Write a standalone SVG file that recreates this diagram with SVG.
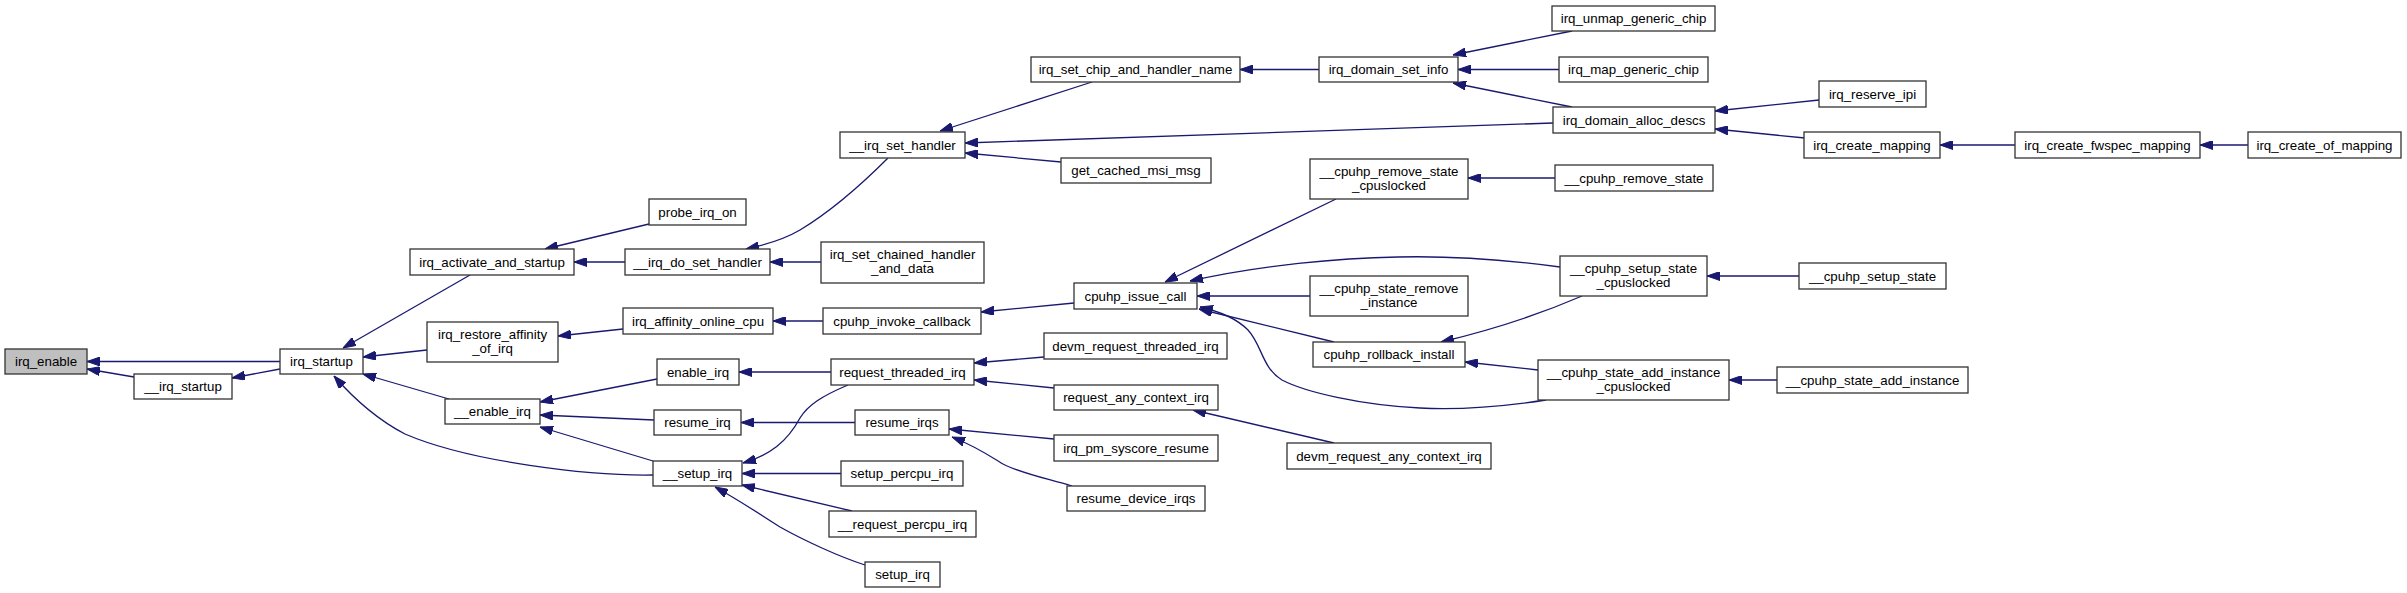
<svg xmlns="http://www.w3.org/2000/svg" width="2407" height="593" viewBox="0 0 2407 593">
<style>
.n rect{fill:#ffffff;stroke:#333333;stroke-width:1.3}
.n.hl rect{fill:#bfbfbf}
.n text{font-family:"Liberation Sans",Arial,sans-serif;font-size:13.3px;fill:#000000;text-anchor:middle}
.e path{fill:none;stroke:#191970;stroke-width:1.3;marker-end:url(#ah)}
</style>
<defs>
<marker id="ah" markerUnits="userSpaceOnUse" viewBox="0 0 13 9" refX="13" refY="4.5" markerWidth="13" markerHeight="9" orient="auto">
<path d="M0,0 L13,4.5 L0,9 z" fill="#191970" stroke="#191970" stroke-width="1"/>
</marker>
</defs>
<rect width="2407" height="593" fill="#ffffff"/>
<g id="connectors" class="e">
<path d="M280,361.5 L87,361.5"/>
<path d="M134,377 L87,369"/>
<path d="M280,369 L232,378"/>
<path d="M470,275 L343,348"/>
<path d="M427,350 L363,357"/>
<path d="M449,399 L363,374"/>
<path d="M653,475 C590,476 470,462 405,434 C378,420 355,400 334,376"/>
<path d="M649,224 L545,249"/>
<path d="M625,262 L574,262"/>
<path d="M623,329 L558,336"/>
<path d="M823,321 L773,321"/>
<path d="M1074,303 L981,312"/>
<path d="M657,379 L540,402"/>
<path d="M654,420 L540,415"/>
<path d="M653,461 L540,427"/>
<path d="M831,372 L739,372"/>
<path d="M855,422.5 L741,422.5"/>
<path d="M848,385 C822,396 808,405 800,418 C787,442 770,455 743,463"/>
<path d="M841,473.5 L742,473.5"/>
<path d="M852,511 L742,485"/>
<path d="M865,565 C840,557 805,541 780,527 C760,514 735,498 715,487"/>
<path d="M888,158 C860,186 830,212 800,230 C783,240 765,245 746,249"/>
<path d="M821,262 L770,262"/>
<path d="M1092,82 L940,131"/>
<path d="M1553,123 L965,143"/>
<path d="M1061,162 L965,153"/>
<path d="M1319,69.5 L1240,69.5"/>
<path d="M1572,31 L1453,55"/>
<path d="M1559,69.5 L1458,69.5"/>
<path d="M1572,107 L1453,83"/>
<path d="M1819,100 L1715,111"/>
<path d="M1805,138 L1715,129"/>
<path d="M2015,145 L1940,145"/>
<path d="M2248,145 L2200,145"/>
<path d="M1336,199 L1165,282"/>
<path d="M1555,178 L1468,178"/>
<path d="M1560,267 C1500,259 1440,256 1398,257 C1340,258 1260,265 1190,281"/>
<path d="M1799,276 L1707,276"/>
<path d="M1310,296 L1197,296"/>
<path d="M1334,342 L1199,309"/>
<path d="M1546,400 C1500,407 1460,410 1420,408 C1360,405 1305,392 1282,380 C1262,368 1262,345 1248,330 C1236,318 1218,311 1200,307"/>
<path d="M1582,296 C1545,312 1500,328 1441,342"/>
<path d="M1538,370 L1465,362"/>
<path d="M1777,380 L1729,380"/>
<path d="M1044,357 L974,363"/>
<path d="M1054,388 L974,380"/>
<path d="M1334,443 L1193,410"/>
<path d="M1054,439 L949,429"/>
<path d="M1072,486 C1045,478 1020,473 1003,464 C990,456 975,446 952,437"/>
</g>
<g id="irq_enable" class="n hl"><rect x="5" y="349" width="82" height="25"/><text x="46" y="366">irq_enable</text></g>
<g id="__irq_startup" class="n"><rect x="134" y="374" width="98" height="25"/><text x="183" y="391">__irq_startup</text></g>
<g id="irq_startup" class="n"><rect x="280" y="349" width="83" height="25"/><text x="321.5" y="366">irq_startup</text></g>
<g id="irq_activate_and_startup" class="n"><rect x="410" y="249" width="164" height="26"/><text x="492" y="266.5">irq_activate_and_startup</text></g>
<g id="irq_restore_affinity_of_irq" class="n"><rect x="427" y="322" width="131" height="40"/><text x="492.5" y="339">irq_restore_affinity</text><text x="492.5" y="353">_of_irq</text></g>
<g id="__enable_irq" class="n"><rect x="445" y="399" width="95" height="25"/><text x="492.5" y="416">__enable_irq</text></g>
<g id="probe_irq_on" class="n"><rect x="649" y="199" width="97" height="26"/><text x="697.5" y="216.5">probe_irq_on</text></g>
<g id="__irq_do_set_handler" class="n"><rect x="625" y="249" width="145" height="26"/><text x="697.5" y="266.5">__irq_do_set_handler</text></g>
<g id="irq_affinity_online_cpu" class="n"><rect x="623" y="308" width="150" height="26"/><text x="698" y="325.5">irq_affinity_online_cpu</text></g>
<g id="enable_irq" class="n"><rect x="657" y="359" width="82" height="26"/><text x="698" y="376.5">enable_irq</text></g>
<g id="resume_irq" class="n"><rect x="654" y="410" width="87" height="25"/><text x="697.5" y="427">resume_irq</text></g>
<g id="__setup_irq" class="n"><rect x="653" y="461" width="89" height="25"/><text x="697.5" y="478">__setup_irq</text></g>
<g id="__irq_set_handler" class="n"><rect x="840" y="132" width="125" height="26"/><text x="902.5" y="149.5">__irq_set_handler</text></g>
<g id="irq_set_chained_handler_and_data" class="n"><rect x="821" y="242" width="163" height="41"/><text x="902.5" y="259">irq_set_chained_handler</text><text x="902.5" y="273">_and_data</text></g>
<g id="cpuhp_invoke_callback" class="n"><rect x="823" y="308" width="158" height="26"/><text x="902" y="325.5">cpuhp_invoke_callback</text></g>
<g id="request_threaded_irq" class="n"><rect x="831" y="359" width="143" height="26"/><text x="902.5" y="376.5">request_threaded_irq</text></g>
<g id="resume_irqs" class="n"><rect x="855" y="410" width="94" height="25"/><text x="902" y="427">resume_irqs</text></g>
<g id="setup_percpu_irq" class="n"><rect x="841" y="461" width="122" height="25"/><text x="902" y="478">setup_percpu_irq</text></g>
<g id="__request_percpu_irq" class="n"><rect x="829" y="511" width="147" height="26"/><text x="902.5" y="528.5">__request_percpu_irq</text></g>
<g id="setup_irq" class="n"><rect x="865" y="562" width="75" height="25"/><text x="902.5" y="579">setup_irq</text></g>
<g id="irq_set_chip_and_handler_name" class="n"><rect x="1031" y="57" width="209" height="25"/><text x="1135.5" y="74">irq_set_chip_and_handler_name</text></g>
<g id="get_cached_msi_msg" class="n"><rect x="1061" y="158" width="150" height="25"/><text x="1136" y="175">get_cached_msi_msg</text></g>
<g id="cpuhp_issue_call" class="n"><rect x="1074" y="283" width="123" height="26"/><text x="1135.5" y="300.5">cpuhp_issue_call</text></g>
<g id="devm_request_threaded_irq" class="n"><rect x="1044" y="333" width="183" height="26"/><text x="1135.5" y="350.5">devm_request_threaded_irq</text></g>
<g id="request_any_context_irq" class="n"><rect x="1054" y="385" width="164" height="25"/><text x="1136" y="402">request_any_context_irq</text></g>
<g id="irq_pm_syscore_resume" class="n"><rect x="1054" y="435" width="164" height="26"/><text x="1136" y="452.5">irq_pm_syscore_resume</text></g>
<g id="resume_device_irqs" class="n"><rect x="1067" y="486" width="138" height="25"/><text x="1136" y="503">resume_device_irqs</text></g>
<g id="irq_domain_set_info" class="n"><rect x="1319" y="57" width="139" height="25"/><text x="1388.5" y="74">irq_domain_set_info</text></g>
<g id="__cpuhp_remove_state_cpuslocked" class="n"><rect x="1310" y="159" width="158" height="40"/><text x="1389" y="176">__cpuhp_remove_state</text><text x="1389" y="190">_cpuslocked</text></g>
<g id="__cpuhp_state_remove_instance" class="n"><rect x="1310" y="276" width="158" height="40"/><text x="1389" y="293">__cpuhp_state_remove</text><text x="1389" y="307">_instance</text></g>
<g id="cpuhp_rollback_install" class="n"><rect x="1313" y="342" width="152" height="25"/><text x="1389" y="359">cpuhp_rollback_install</text></g>
<g id="devm_request_any_context_irq" class="n"><rect x="1287" y="443" width="204" height="26"/><text x="1389" y="460.5">devm_request_any_context_irq</text></g>
<g id="irq_unmap_generic_chip" class="n"><rect x="1552" y="6" width="163" height="25"/><text x="1633.5" y="23">irq_unmap_generic_chip</text></g>
<g id="irq_map_generic_chip" class="n"><rect x="1559" y="57" width="149" height="25"/><text x="1633.5" y="74">irq_map_generic_chip</text></g>
<g id="irq_domain_alloc_descs" class="n"><rect x="1553" y="107" width="162" height="26"/><text x="1634" y="124.5">irq_domain_alloc_descs</text></g>
<g id="__cpuhp_remove_state" class="n"><rect x="1555" y="165" width="158" height="26"/><text x="1634" y="182.5">__cpuhp_remove_state</text></g>
<g id="__cpuhp_setup_state_cpuslocked" class="n"><rect x="1560" y="256" width="147" height="40"/><text x="1633.5" y="273">__cpuhp_setup_state</text><text x="1633.5" y="287">_cpuslocked</text></g>
<g id="__cpuhp_state_add_instance_cpuslocked" class="n"><rect x="1538" y="360" width="191" height="40"/><text x="1633.5" y="377">__cpuhp_state_add_instance</text><text x="1633.5" y="391">_cpuslocked</text></g>
<g id="irq_reserve_ipi" class="n"><rect x="1819" y="81" width="107" height="26"/><text x="1872.5" y="98.5">irq_reserve_ipi</text></g>
<g id="irq_create_mapping" class="n"><rect x="1804" y="132" width="136" height="26"/><text x="1872" y="149.5">irq_create_mapping</text></g>
<g id="__cpuhp_setup_state" class="n"><rect x="1799" y="263" width="147" height="26"/><text x="1872.5" y="280.5">__cpuhp_setup_state</text></g>
<g id="__cpuhp_state_add_instance" class="n"><rect x="1777" y="367" width="191" height="26"/><text x="1872.5" y="384.5">__cpuhp_state_add_instance</text></g>
<g id="irq_create_fwspec_mapping" class="n"><rect x="2015" y="132" width="185" height="26"/><text x="2107.5" y="149.5">irq_create_fwspec_mapping</text></g>
<g id="irq_create_of_mapping" class="n"><rect x="2248" y="132" width="153" height="26"/><text x="2324.5" y="149.5">irq_create_of_mapping</text></g>
</svg>
